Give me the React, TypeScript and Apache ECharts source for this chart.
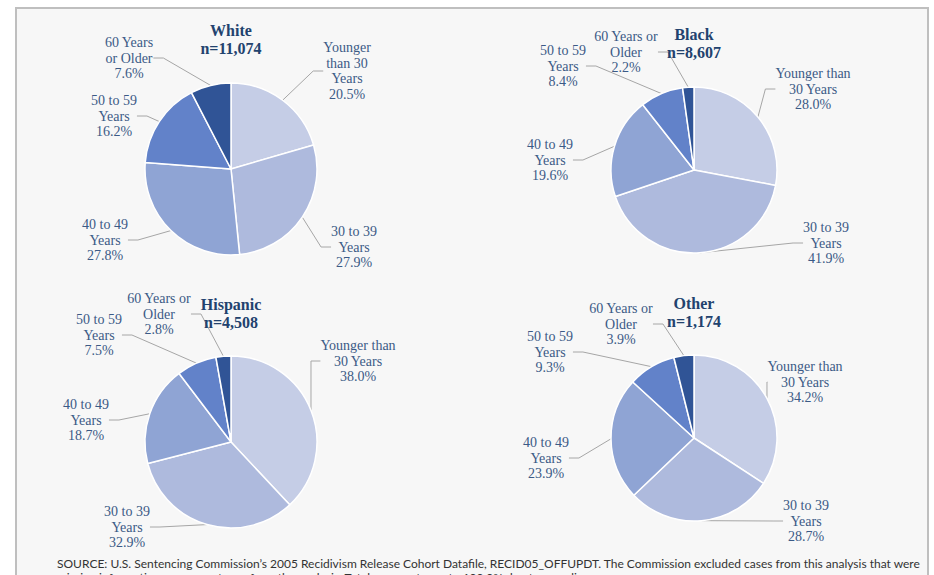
import React, { useEffect, useRef } from "react";
import * as echarts from "echarts";

// ---- data ----
const ageGroups = [
  "Younger than 30 Years",
  "30 to 39 Years",
  "40 to 49 Years",
  "50 to 59 Years",
  "60 Years or Older",
];
const whiteValues = [20.5, 27.9, 27.8, 16.2, 7.6];
const blackValues = [28.0, 41.9, 19.6, 8.4, 2.2];
const hispanicValues = [38.0, 32.9, 18.7, 7.5, 2.8];
const otherValues = [34.2, 28.7, 23.9, 9.3, 3.9];

const whiteLabels = ["Younger\nthan 30\nYears", "30 to 39\nYears", "40 to 49\nYears", "50 to 59\nYears", "60 Years\nor Older"];
const groupLabels = ["Younger than\n30 Years", "30 to 39\nYears", "40 to 49\nYears", "50 to 59\nYears", "60 Years or\nOlder"];

const panelTitles = ["White", "Black", "Hispanic", "Other"];
const panelCounts = ["n=11,074", "n=8,607", "n=4,508", "n=1,174"];

const sourceLine1 =
  "SOURCE: U.S. Sentencing Commission\u2019s 2005 Recidivism Release Cohort Datafile, RECID05_OFFUPDT. The Commission excluded cases from this analysis that were";
const sourceLine2 =
  "missing information necessary to perform the analysis. Totals may not sum to 100.0% due to rounding.";

// ---- styling / layout ----
const sliceColors = ["#c5cde6", "#aebadd", "#8fa4d4", "#6282c9", "#305496"];
const labelColor = "#3b5a86";
const titleColor = "#22426e";
const serif = "'Liberation Serif', 'DejaVu Serif', serif";

const panels = [
  { values: whiteValues, names: whiteLabels, center: [231, 169], r: 86, title: [231, 30],
    labelPos: [[347, 71], [354, 247], [105, 240], [114, 116], [129, 58]] },
  { values: blackValues, names: groupLabels, center: [694, 170], r: 83, title: [694, 34],
    labelPos: [[813, 89], [826, 243], [550, 160], [563, 66], [626, 52]] },
  { values: hispanicValues, names: groupLabels, center: [231, 442], r: 86, title: [231, 304],
    labelPos: [[358, 361], [127, 527], [86, 420], [99, 335], [159, 314]] },
  { values: otherValues, names: groupLabels, center: [694, 438], r: 83, title: [694, 303],
    labelPos: [[805, 382], [806, 521], [546, 458], [550, 352], [621, 324]] },
];

export default function App() {
  const ref = useRef<HTMLDivElement>(null);

  useEffect(() => {
    if (!ref.current) return;
    const chart = echarts.init(ref.current, undefined, { renderer: "svg" });

    const series = panels.map((p) => ({
      type: "pie",
      center: p.center,
      radius: p.r,
      startAngle: 90,
      clockwise: true,
      avoidLabelOverlap: false,
      z: 2,
      itemStyle: { borderColor: "#ffffff", borderWidth: 1.5 },
      label: {
        show: true,
        position: "outside",
        color: labelColor,
        fontFamily: serif,
        fontSize: 14,
        lineHeight: 15.5,
        align: "center",
        formatter: (params: any) =>
          p.names[params.dataIndex] + "\n" + Number(params.value).toFixed(1) + "%",
      },
      labelLine: {
        show: true,
        length: 10,
        length2: 10,
        lineStyle: { color: "#a6a6a6", width: 1 },
      },
      labelLayout: (params: any) => {
        const pos = p.labelPos[params.dataIndex];
        return { x: pos[0], y: pos[1], align: "center", verticalAlign: "middle" };
      },
      emphasis: { disabled: true },
      data: p.values.map((v, i) => ({
        name: ageGroups[i],
        value: v,
        itemStyle: { color: sliceColors[i] },
      })),
    }));

    const graphic: any[] = [
      {
        type: "rect",
        z: -10,
        shape: { x: 16, y: 8, width: 912, height: 620 },
        style: { fill: "#f7f7f7", stroke: "#bfbfbf", lineWidth: 2 },
      },
    ];
    panels.forEach((p, i) => {
      graphic.push({
        type: "text",
        z: 5,
        x: p.title[0],
        y: p.title[1],
        style: {
          text: panelTitles[i],
          fill: titleColor,
          font: `bold 16px ${serif}`,
          textAlign: "center",
          textVerticalAlign: "middle",
        },
      });
      graphic.push({
        type: "text",
        z: 5,
        x: p.title[0],
        y: p.title[1] + 18,
        style: {
          text: panelCounts[i],
          fill: titleColor,
          font: `bold 16px ${serif}`,
          textAlign: "center",
          textVerticalAlign: "middle",
        },
      });
    });
    graphic.push({
      type: "text",
      z: 5,
      x: 57,
      y: 563,
      style: {
        text: sourceLine1,
        fill: "#333333",
        font: "12px Lato, 'Open Sans', sans-serif",
        textAlign: "left",
        textVerticalAlign: "middle",
      },
    });
    graphic.push({
      type: "text",
      z: 5,
      x: 57,
      y: 577,
      style: {
        text: sourceLine2,
        fill: "#333333",
        font: "12px Lato, 'Open Sans', sans-serif",
        textAlign: "left",
        textVerticalAlign: "middle",
      },
    });

    chart.setOption({
      animation: false,
      backgroundColor: "#ffffff",
      graphic,
      series,
    } as any);

    return () => chart.dispose();
  }, []);

  return (
    <div
      ref={ref}
      style={{ position: "fixed", left: 0, top: 0, width: 934, height: 575 }}
    />
  );
}
